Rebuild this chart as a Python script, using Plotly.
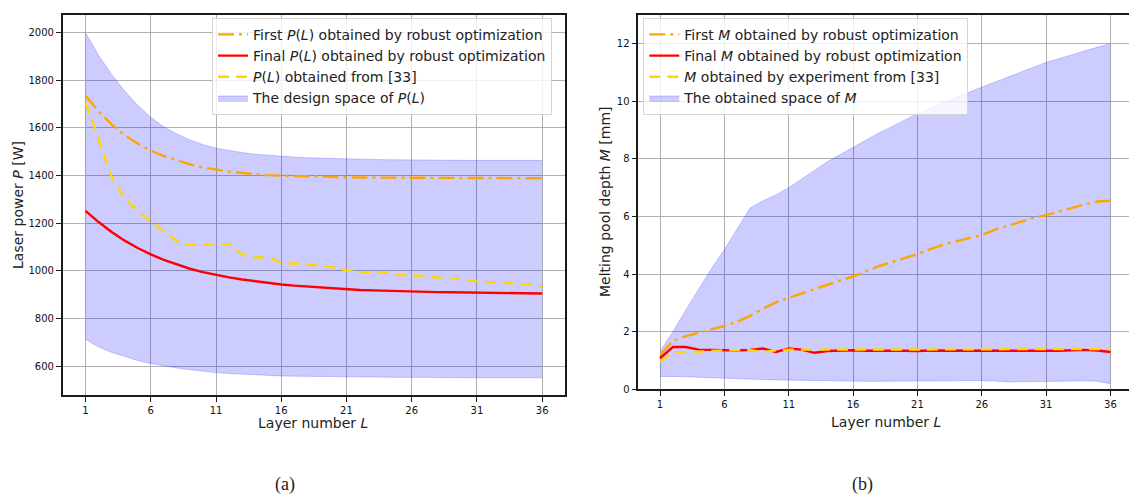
import plotly.graph_objects as go

# ---------------- data ----------------
layers = list(range(1, 37))
xticks = [1, 6, 11, 16, 21, 26, 31, 36]

# (a) laser power P(L) [W]
P_space_upper = [2000, 1905, 1825, 1755, 1695, 1645, 1605, 1575, 1550, 1530,
                 1515, 1505, 1497, 1490, 1485, 1481, 1478, 1475, 1473, 1471,
                 1470, 1469, 1468, 1467, 1466, 1466, 1465, 1465, 1465, 1464,
                 1464, 1464, 1464, 1464, 1464, 1464]
P_space_lower = [713, 680, 658, 640, 624, 611, 600, 592, 585, 578,
                 573, 569, 566, 563, 561, 559, 558, 557, 556, 555,
                 555, 554, 554, 553, 553, 553, 552, 552, 552, 552,
                 551, 551, 551, 551, 551, 551]
P_first = [1735, 1670, 1615, 1570, 1535, 1505, 1482, 1463, 1447, 1434,
           1424, 1417, 1411, 1406, 1402, 1400, 1398, 1396, 1395, 1394,
           1393, 1392, 1392, 1391, 1391, 1391, 1390, 1390, 1390, 1390,
           1389, 1389, 1389, 1389, 1389, 1389]
P_final = [1252, 1205, 1163, 1127, 1096, 1069, 1046, 1026, 1009, 995,
           983, 973, 964, 956, 949, 943, 938, 934, 930, 926,
           922, 920, 918, 916, 915, 913, 912, 911, 910, 909,
           908, 907, 906, 906, 905, 905]
P_ref33 = [1705, 1555, 1395, 1306, 1250, 1208, 1167, 1125, 1108, 1108,
           1110, 1113, 1069, 1057, 1057, 1035, 1032, 1028, 1021, 1014,
           1003, 994, 994, 992, 983, 981, 979, 972, 967, 965,
           955, 951, 950, 947, 942, 933]

# (b) melting pool depth M [mm]
M_space_upper = [1.33, 2.0, 2.75, 3.5, 4.2, 4.85, 5.6, 6.3, 6.55, 6.75,
                 7.0, 7.3, 7.6, 7.9, 8.15, 8.4, 8.65, 8.9, 9.12, 9.35,
                 9.57, 9.76, 9.95, 10.13, 10.31, 10.49, 10.66, 10.84, 11.01, 11.18,
                 11.35, 11.48, 11.62, 11.75, 11.88, 12.0]
M_space_lower = [0.45, 0.45, 0.44, 0.42, 0.40, 0.38, 0.36, 0.35, 0.34, 0.33,
                 0.32, 0.31, 0.30, 0.30, 0.29, 0.29, 0.28, 0.28, 0.28, 0.29,
                 0.29, 0.30, 0.30, 0.30, 0.31, 0.31, 0.29, 0.26, 0.26, 0.27,
                 0.28, 0.28, 0.29, 0.30, 0.28, 0.20]
M_first = [1.2, 1.68, 1.85, 1.97, 2.07, 2.2, 2.35, 2.55, 2.8, 3.02,
           3.18, 3.33, 3.5, 3.65, 3.78, 3.92, 4.1, 4.28, 4.42, 4.55,
           4.7, 4.87, 5.02, 5.14, 5.26, 5.36, 5.54, 5.68, 5.82, 5.95,
           6.05, 6.18, 6.3, 6.42, 6.52, 6.55]
M_final = [1.08, 1.47, 1.47, 1.38, 1.37, 1.35, 1.35, 1.37, 1.42, 1.30,
           1.42, 1.38, 1.27, 1.33, 1.35, 1.36, 1.34, 1.33, 1.34, 1.34,
           1.33, 1.35, 1.35, 1.34, 1.34, 1.35, 1.34, 1.34, 1.33, 1.33,
           1.33, 1.34, 1.36, 1.37, 1.35, 1.30]
M_exp33 = [0.98, 1.29, 1.29, 1.30, 1.33, 1.36, 1.36, 1.36, 1.30, 1.36,
           1.38, 1.38, 1.37, 1.38, 1.38, 1.38, 1.38, 1.37, 1.37, 1.38,
           1.38, 1.38, 1.38, 1.39, 1.39, 1.39, 1.39, 1.40, 1.40, 1.40,
           1.40, 1.41, 1.41, 1.42, 1.42, 1.40]

# ---------------- styles ----------------
W, H = 1129, 503
FILL = "rgba(0,0,255,0.2)"
EDGE = "rgba(60,60,255,0.25)"
ORANGE = "#ffa500"
RED = "#ff0000"
GOLD = "#ffd700"
DASHDOT = "16px,5px,3px,5px"
DASHED = "11px,7px"
LW = 2.4
FONT = "DejaVu Sans"
TXT = "#222222"

fig = go.Figure()


def add_panel(xa, ya, leg, lower, upper, first, final, ref, names):
    fig.add_trace(go.Scatter(x=layers, y=lower, mode="lines", xaxis=xa, yaxis=ya,
                             line=dict(color=EDGE, width=1), showlegend=False,
                             hoverinfo="skip"))
    fig.add_trace(go.Scatter(x=layers, y=upper, mode="lines", xaxis=xa, yaxis=ya,
                             fill="tonexty", fillcolor=FILL,
                             line=dict(color=EDGE, width=1), name=names[3],
                             legend=leg, legendrank=4))
    fig.add_trace(go.Scatter(x=layers, y=first, mode="lines", xaxis=xa, yaxis=ya,
                             line=dict(color=ORANGE, width=LW, dash=DASHDOT),
                             name=names[0], legend=leg, legendrank=1))
    fig.add_trace(go.Scatter(x=layers, y=final, mode="lines", xaxis=xa, yaxis=ya,
                             line=dict(color=RED, width=LW),
                             name=names[1], legend=leg, legendrank=2))
    fig.add_trace(go.Scatter(x=layers, y=ref, mode="lines", xaxis=xa, yaxis=ya,
                             line=dict(color=GOLD, width=LW, dash=DASHED),
                             name=names[2], legend=leg, legendrank=3))


add_panel("x", "y", "legend", P_space_lower, P_space_upper, P_first, P_final, P_ref33,
          ["First <i>P</i>(<i>L</i>) obtained by robust optimization",
           "Final <i>P</i>(<i>L</i>) obtained by robust optimization",
           "<i>P</i>(<i>L</i>) obtained from [33]",
           "The design space of <i>P</i>(<i>L</i>)"])
add_panel("x2", "y2", "legend2", M_space_lower, M_space_upper, M_first, M_final, M_exp33,
          ["First <i>M</i> obtained by robust optimization",
           "Final <i>M</i> obtained by robust optimization",
           "<i>M</i> obtained by experiment from [33]",
           "The obtained space of <i>M</i>"])

axis_common = dict(showgrid=True, gridcolor="#b0b0b0", gridwidth=1,
                   showline=True, linecolor="#1a1a1a", linewidth=1.5,
                   ticks="outside", ticklen=5, tickwidth=1.2, tickcolor="#1a1a1a",
                   tickfont=dict(family=FONT, size=10, color="#111111"),
                   zeroline=False)

fig.update_layout(
    width=W, height=H,
    margin=dict(l=0, r=0, t=0, b=0),
    paper_bgcolor="white", plot_bgcolor="white",
    showlegend=True,
    xaxis=dict(domain=[62.7 / W, 565 / W], range=[-0.75, 37.75], tickvals=xticks,
               mirror=True, anchor="y", **axis_common),
    yaxis=dict(domain=[(H - 399.3) / H, (H - 15) / H], range=[477.5, 2075],
               tickvals=[600, 800, 1000, 1200, 1400, 1600, 1800, 2000],
               mirror=True, anchor="x", **axis_common),
    xaxis2=dict(domain=[638.3 / W, 1.0], range=[-0.69, 37.44], tickvals=xticks,
                mirror=True, anchor="y2", **axis_common),
    yaxis2=dict(domain=[(H - 393.3) / H, (H - 15) / H], range=[0, 13],
                tickvals=[0, 2, 4, 6, 8, 10, 12], mirror=False, anchor="x2",
                **axis_common),
    legend=dict(x=212 / W, y=(H - 18) / H, xanchor="left", yanchor="top",
                bgcolor="rgba(255,255,255,0.8)", bordercolor="#d5d5d5", borderwidth=1,
                font=dict(family=FONT, size=14, color=TXT), traceorder="normal"),
    legend2=dict(x=643.3 / W, y=(H - 18) / H, xanchor="left", yanchor="top",
                 bgcolor="rgba(255,255,255,0.8)", bordercolor="#d5d5d5", borderwidth=1,
                 font=dict(family=FONT, size=14, color=TXT), traceorder="normal"),
)

ann_font = dict(family=FONT, size=14, color=TXT)
annotations = [
    dict(text="Layer number <i>L</i>", x=313 / W, y=(H - 427) / H),
    dict(text="Layer number <i>L</i>", x=886 / W, y=(H - 426) / H),
    dict(text="Laser power <i>P</i> [W]", x=18 / W, y=(H - 207) / H, textangle=-90),
    dict(text="Melting pool depth <i>M</i> [mm]", x=605 / W, y=(H - 204) / H, textangle=-90),
]
for a in annotations:
    fig.add_annotation(xref="paper", yref="paper", showarrow=False,
                       xanchor="center", yanchor="middle", font=ann_font, **a)

for txt, xc in [("(a)", 285), ("(b)", 862)]:
    fig.add_annotation(text=txt, xref="paper", yref="paper", x=xc / W, y=(H - 489) / H,
                       showarrow=False, xanchor="center", yanchor="middle",
                       font=dict(family="Liberation Serif", size=18, color=TXT))

fig.write_html("out.html")
